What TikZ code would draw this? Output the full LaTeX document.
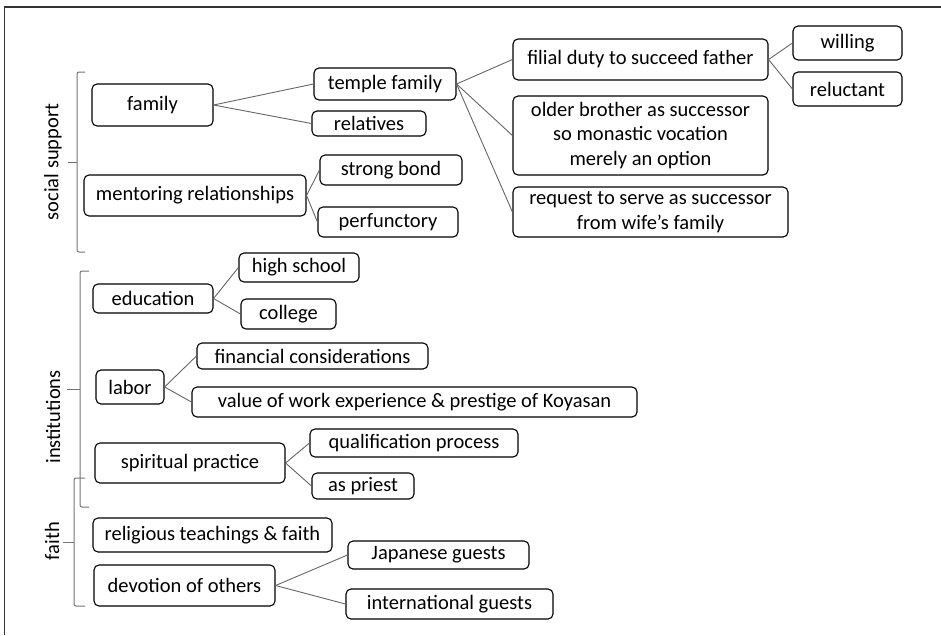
\documentclass[tikz,border=0pt]{standalone}
\usepackage{fontspec}
\setmainfont{Carlito}
\begin{document}
\begin{tikzpicture}[x=1pt,y=-1pt,
  bx/.style={draw=black, line width=1.1pt, rounded corners=5pt, inner sep=0pt, align=center,
    font=\fontsize{20.5}{24.7}\selectfont},
  cn/.style={draw=black!60, line width=0.9pt},
  brk/.style={draw=black!55, line width=1pt, rounded corners=2pt},
  lbl/.style={rotate=90, inner sep=0pt, font=\fontsize{20.5}{24}\selectfont}]
\useasboundingbox (0,0) rectangle (941,635);
\draw[line width=1.8pt, black!80] (941,7) -- (4.5,7) -- (4.5,635);

\newcommand{\bxn}[6]{\node[bx, minimum width=#4, minimum height=#5] (#1) at (#2,#3) {#6};}
\bxn{family}{152.5}{105}{121}{42}{family}
\bxn{temple}{385}{84}{142}{32}{temple family}
\bxn{relatives}{369}{123.5}{114}{25}{relatives}
\bxn{mentoring}{195}{195.5}{222}{41}{mentoring relationships}
\bxn{strong}{391}{170}{142}{30}{strong bond}
\bxn{perf}{388}{222}{140}{30}{perfunctory}
\bxn{filial}{640.5}{59.5}{255}{41}{filial duty to succeed father}
\bxn{willing}{847.5}{43}{109}{34}{willing}
\bxn{reluctant}{847.5}{89}{109}{34}{reluctant}
\bxn{older}{640.5}{135.5}{255}{79}{older brother as successor\\so monastic vocation\\merely an option}
\bxn{request}{650.5}{212}{275}{50}{request to serve as successor\\from wife’s family}
\bxn{education}{153}{298.5}{120}{29}{education}
\bxn{highschool}{299}{267.5}{120}{29}{high school}
\bxn{college}{288.5}{314}{95}{30}{college}
\bxn{labor}{130}{387}{68}{34}{labor}
\bxn{financial}{312.5}{356}{231}{26}{financial considerations}
\bxn{value}{414.5}{402}{445}{30}{value of work experience \& prestige of Koyasan}
\bxn{spiritual}{190}{463}{190}{40}{spiritual practice}
\bxn{qual}{414}{443}{208}{28}{qualification process}
\bxn{priest}{363}{486}{102}{26}{as priest}
\bxn{religious}{212.5}{535}{239}{34}{religious teachings \& faith}
\bxn{devotion}{184.5}{585.5}{181}{41}{devotion of others}
\bxn{japanese}{438.5}{555}{181}{28}{Japanese guests}
\bxn{international}{449.5}{604}{207}{30}{international guests}

\draw[cn] (family.east) -- (temple.west);
\draw[cn] (family.east) -- (relatives.west);
\draw[cn] (mentoring.east) -- (strong.west);
\draw[cn] (mentoring.east) -- (perf.west);
\draw[cn] (temple.east) -- (filial.west);
\draw[cn] (temple.east) -- (older.west);
\draw[cn] (temple.east) -- (request.west);
\draw[cn] (filial.east) -- (willing.west);
\draw[cn] (filial.east) -- (reluctant.west);
\draw[cn] (education.east) -- (highschool.west);
\draw[cn] (education.east) -- (college.west);
\draw[cn] (labor.east) -- (financial.west);
\draw[cn] (labor.east) -- (value.west);
\draw[cn] (spiritual.east) -- (qual.west);
\draw[cn] (spiritual.east) -- (priest.west);
\draw[cn] (devotion.east) -- (japanese.west);
\draw[cn] (devotion.east) -- (international.west);

% brackets
\draw[brk] (85,72) -- (77,72) -- (77,252) -- (85,252);
\draw[brk] (77,162) -- (68,162);
\draw[brk] (89,271) -- (80,271) -- (80,507) -- (89,507);
\draw[brk] (80,389) -- (67,389);
\draw[brk] (85,478) -- (74,478) -- (74,606) -- (85,606);
\draw[brk] (74,542) -- (63,542);

\node[lbl] (lss) at (53,162) {social support};
\node[lbl] (lin) at (53,417) {institutions};
\node[lbl] (lfa) at (52,541) {faith};
\end{tikzpicture}
\end{document}
